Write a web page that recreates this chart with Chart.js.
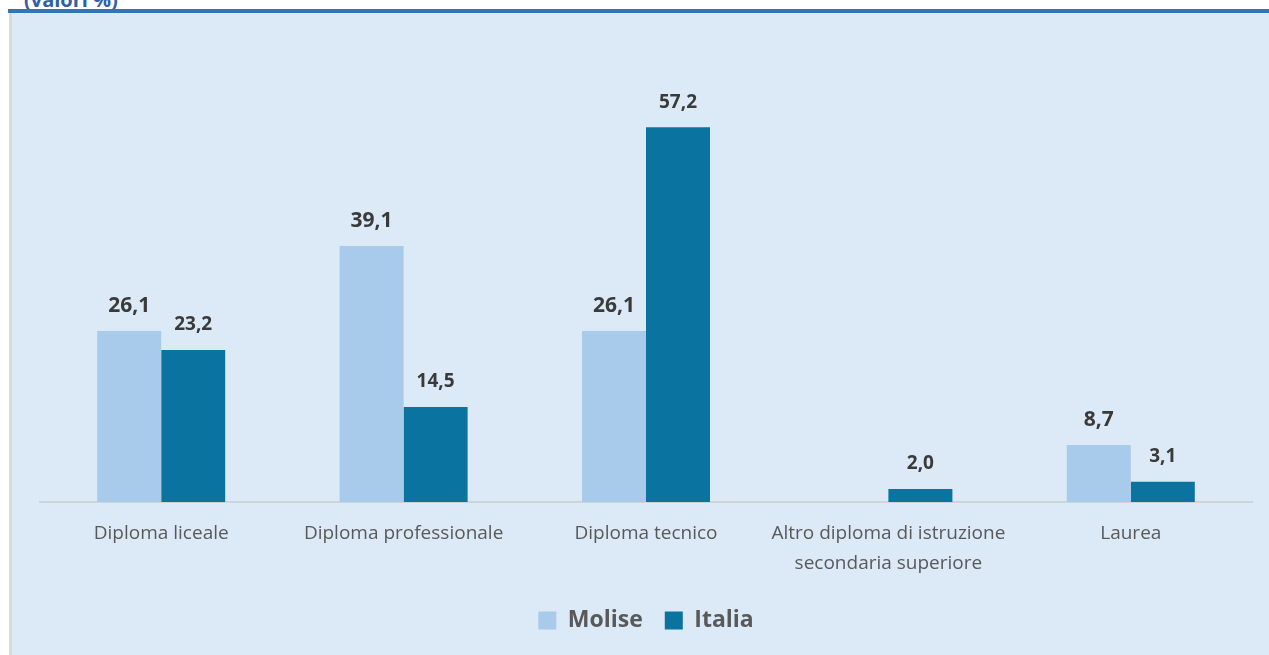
<!DOCTYPE html>
<html>
<head>
<meta charset="utf-8">
<script src="https://cdn.jsdelivr.net/npm/chart.js@4.4.1/dist/chart.umd.min.js"></script>
<style>
  html,body{margin:0;padding:0;background:#fff;width:1269px;height:655px;overflow:hidden;font-family:"Open Sans",sans-serif;}
  #title{position:absolute;left:24px;top:-14px;font:bold 20px "Open Sans",sans-serif;color:#2e5fa8;}
  #rule{position:absolute;left:8px;top:9px;width:1261px;height:4px;background:#2f75b8;}
  #panel{position:absolute;left:9px;top:13px;width:1260px;height:642px;background:#dce9f6;border-left:3px solid #d8dadc;box-sizing:border-box;}
  #wrap{position:absolute;left:0;top:0;width:1257px;height:642px;}
</style>
</head>
<body>
<div id="title">(valori %)</div>
<div id="rule"></div>
<div id="panel"><div id="wrap"><canvas id="c"></canvas></div></div>
<script>
const categories = [
  "Diploma liceale",
  "Diploma professionale",
  "Diploma tecnico",
  ["Altro diploma di istruzione", "secondaria superiore"],
  "Laurea"
];
const seriesNames = ["Molise", "Italia"];
const molise = [26.1, 39.1, 26.1, null, 8.7];
const italia = [23.2, 14.5, 57.2, 2.0, 3.1];

const labelPlugin = {
  id: 'valueLabels',
  afterDatasetsDraw(chart) {
    const ctx = chart.ctx;
    chart.data.datasets.forEach((ds, di) => {
      const meta = chart.getDatasetMeta(di);
      meta.data.forEach((bar, i) => {
        const v = ds.data[i];
        if (v === null || v === undefined) return;
        ctx.save();
        ctx.fillStyle = '#3a3a3a';
        ctx.font = (di === 0 ? 'bold 21px' : 'bold 19px') + ' "Open Sans", sans-serif';
        ctx.textAlign = 'center';
        ctx.textBaseline = 'middle';
        ctx.fillText(v.toFixed(1).replace('.', ','), bar.x, bar.y - 25);
        ctx.restore();
      });
    });
  }
};

new Chart(document.getElementById('c'), {
  type: 'bar',
  data: {
    labels: categories,
    datasets: [
      { label: seriesNames[0], data: molise, backgroundColor: '#a8cbeb' },
      { label: seriesNames[1], data: italia, backgroundColor: '#0b739f' }
    ]
  },
  options: {
    responsive: true,
    maintainAspectRatio: false,
    animation: false,
    layout: { padding: { left: 28, right: 17, top: 96, bottom: 13 } },
    datasets: { bar: { barPercentage: 1, categoryPercentage: 0.528 } },
    scales: {
      x: {
        grid: { display: false, drawTicks: false },
        border: { display: true, color: '#cfd4d8', width: 2 },
        ticks: { color: '#595959', font: { family: '"Open Sans", sans-serif', size: 19, lineHeight: 1.58 }, padding: 17, maxRotation: 0 },
        afterFit: (s) => { s.height = 85; }
      },
      y: { display: false, min: 0, max: 60 }
    },
    plugins: {
      legend: {
        position: 'bottom',
        labels: { color: '#595959', font: { family: '"Open Sans", sans-serif', size: 23, weight: 'bold' }, boxWidth: 18, boxHeight: 18, padding: 22 }
      },
      tooltip: { enabled: false }
    }
  },
  plugins: [labelPlugin]
});
</script>
</body>
</html>
